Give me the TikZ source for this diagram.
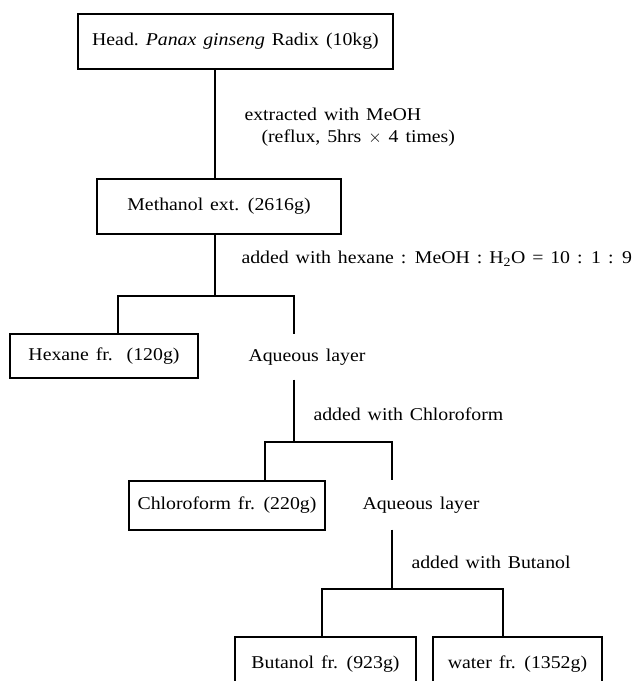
\documentclass[tikz,border=0pt]{standalone}
\usepackage{fontspec}
\setmainfont[FakeStretch=1.1,WordSpace=1.4]{Liberation Serif}
\begin{document}
\begin{tikzpicture}[x=1pt,y=-1pt,line width=1.1pt,
  box/.style={draw,inner sep=0pt,font=\fontsize{18}{21}\selectfont},
  lbl/.style={anchor=west,inner sep=0pt,font=\fontsize{18}{21}\selectfont},
  aq/.style={anchor=west,inner sep=0pt,minimum height=44pt,font=\fontsize{18}{21}\selectfont}]
\useasboundingbox (0,0) rectangle (636,681);
\clip (0,0) rectangle (636,681);
\node[box,minimum width=315pt,minimum height=55pt] (head) at (235.5,41.5) {Head.\ \textit{Panax ginseng} Radix (10kg)};
\node[box,minimum width=244pt,minimum height=55pt] (meth) at (219,206.5) {Methanol ext. (2616g)};
\node[box,minimum width=188pt,minimum height=44pt] (hex) at (104,356) {Hexane fr.\ \ (120g)};
\node[aq] (aq1) at (248,357) {Aqueous layer};
\node[box,minimum width=196pt,minimum height=49pt] (chl) at (227,505.5) {Chloroform fr. (220g)};
\node[aq,minimum height=48pt] (aq2) at (362,505) {Aqueous layer};
\node[box,minimum width=181pt,minimum height=54pt] (bu) at (325.5,664) {Butanol fr. (923g)};
\node[box,minimum width=169pt,minimum height=54pt] (wa) at (517.5,664) {water fr. (1352g)};
\node[lbl] (l1) at (244,114) {extracted with MeOH};
\node[lbl] (l2) at (261,138) {(reflux, 5hrs $\times$ 4 times)};
\node[lbl] (l3) at (241,259) {added with hexane : MeOH : H\textsubscript{2}O = 10 : 1 : 9};
\node[lbl] (l4) at (313,414) {added with Chloroform};
\node[lbl] (l5) at (411,562) {added with Butanol};
\coordinate (s1) at (215,0);
\coordinate (bL1) at (118,296);
\coordinate (bR1) at (294,296);
\coordinate (bL2) at (265,442);
\coordinate (bR2) at (392,442);
\coordinate (bL3) at (322,589);
\coordinate (bR3) at (503,589);
\draw (head.south -| s1) -- (meth.north -| s1);
\draw (meth.south -| s1) -- (s1 |- bL1);
\draw (hex.north -| bL1) -- (bL1) -- (bR1) -- (aq1.north -| bR1);
\draw (aq1.south -| bR1) -- (bR1 |- bL2);
\draw (chl.north -| bL2) -- (bL2) -- (bR2) -- (aq2.north -| bR2);
\draw (aq2.south -| bR2) -- (bR2 |- bL3);
\draw (bu.north -| bL3) -- (bL3) -- (bR3) -- (wa.north -| bR3);
\end{tikzpicture}
\end{document}
